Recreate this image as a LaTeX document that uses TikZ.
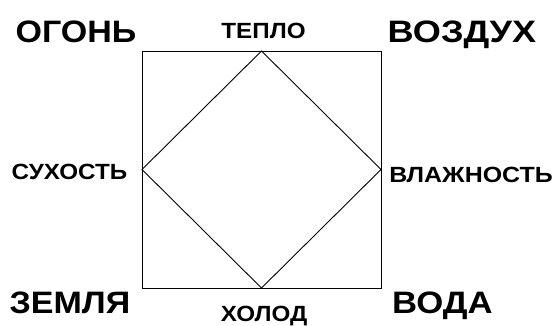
\documentclass[tikz,border=0pt]{standalone}
\usepackage{fontspec}
\setmainfont{Liberation Sans}
\usetikzlibrary{positioning}

\begin{document}
\begin{tikzpicture}[x=1pt,y=-1pt,
    element/.style={font=\fontsize{31}{34}\selectfont\bfseries, inner sep=0pt, anchor=base, xscale=1.12},
    quality/.style={font=\fontsize{22}{25}\selectfont\bfseries, inner sep=0pt, anchor=base, xscale=1.1}]
    \useasboundingbox (0,0) rectangle (554,325);
    % square and rhombus
    \coordinate (nw) at (142,51);
    \coordinate (se) at (381,288);
    \draw[line width=0.9pt] (nw) rectangle (se);
    \node[inner sep=0pt] (top) at (261.5,51) {};
    \node[inner sep=0pt] (bot) at (261.5,288) {};
    \node[inner sep=0pt] (lft) at (142,169.5) {};
    \node[inner sep=0pt] (rgt) at (381,169.5) {};
    \draw[line width=0.9pt] (top.center) -- (rgt.center) -- (bot.center) -- (lft.center) -- cycle;
    % elements
    \node[element, xscale=0.98] (fire) at (76,42) {ОГОНЬ};
    \node[element, xscale=1.04] (air) at (462,42) {ВОЗДУХ};
    \node[element, xscale=0.98] (earth) at (70,313) {ЗЕМЛЯ};
    \node[element] (water) at (442.5,313) {ВОДА};
    % qualities
    \node[quality] (heat) at (263.5,38) {ТЕПЛО};
    \node[quality] (cold) at (264,321) {ХОЛОД};
    \node[quality] (dry) at (69.5,179) {СУХОСТЬ};
    \node[quality, xscale=1.03] (wet) at (471,182) {ВЛАЖНОСТЬ};
\end{tikzpicture}
\end{document}
